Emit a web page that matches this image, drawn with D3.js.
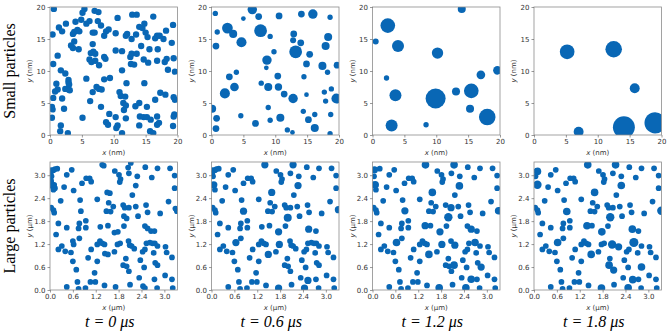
<!DOCTYPE html>
<html><head><meta charset="utf-8">
<script src="https://cdn.jsdelivr.net/npm/d3@7"></script>
<style>body{margin:0;background:#fff}svg{display:block}</style>
</head><body>
<svg id="c" width="669" height="333"></svg>
<script>
// ---------- DATA ----------
const timeLabels = ["t = 0 μs", "t = 0.6 μs", "t = 1.2 μs", "t = 1.8 μs"];
const rowLabels = ["Small particles", "Large particles"];
const smallTicks = [0, 5, 10, 15, 20];
const largeTicks = [0.0, 0.6, 1.2, 1.8, 2.4, 3.0];

// small particles, [x nm, y nm, r nm]
const smallT0 = [
[0.6,19.7,.5],[5.1,19.1,.5],[5.4,19.7,.5],[7.0,19.4,.5],[7.6,19.2,.5],[10.6,18.3,.5],[12.9,18.8,.5],[13.6,18.8,.5],
[16.2,18.5,.5],[19.3,17.2,.5],[1.4,16.8,.5],[1.9,16.2,.5],[2.5,17.4,.5],[0.4,15.7,.5],[4.0,17.7,.5],[4.9,18.0,.5],
[5.7,17.4,.5],[6.2,17.8,.5],[3.8,16.1,.5],[4.3,16.4,.5],[4.6,16.2,.5],[3.6,15.8,.5],[6.7,16.0,.5],[7.0,16.0,.5],
[7.5,17.8,.5],[8.0,17.1,.5],[8.8,16.2,.5],[8.5,15.5,.5],[9.2,16.5,.5],[10.3,15.9,.5],[12.1,15.8,.5],[11.9,15.5,.5],
[12.8,15.0,.5],[13.5,15.7,.5],[14.0,16.9,.5],[14.5,16.7,.5],[14.8,17.4,.5],[15.0,16.0,.5],[15.3,15.3,.5],[16.5,15.1,.5],
[16.8,15.5,.5],[17.2,15.5,.5],[18.2,16.3,.5],[17.8,15.0,.5],[19.1,14.4,.5],[16.9,13.4,.5],[15.6,13.4,.5],[14.3,13.9,.5],
[3.3,14.0,.5],[3.8,14.6,.5],[3.6,13.6,.5],[4.5,13.4,.5],[6.7,14.2,.5],[6.4,12.8,.5],[6.8,13.0,.5],[7.1,12.7,.5],
[6.2,11.8,.5],[6.5,11.4,.5],[7.1,11.6,.5],[7.7,10.9,.5],[8.7,11.9,.5],[8.5,12.2,.5],[10.3,13.2,.5],[11.3,13.1,.5],
[12.6,12.2,.5],[12.8,12.7,.5],[13.6,12.7,.5],[12.7,11.1,.5],[13.2,11.0,.5],[14.7,11.8,.5],[15.4,11.3,.5],[16.8,11.6,.5],
[18.0,11.4,.5],[18.3,11.9,.5],[19.4,12.0,.5],[19.6,9.9,.5],[18.5,10.2,.5],[0.5,11.1,.5],[1.2,12.4,.5],[1.7,10.1,.5],
[2.4,9.6,.5],[2.9,8.6,.5],[2.9,8.2,.5],[3.0,7.9,.5],[5.7,8.8,.5],[8.5,8.7,.5],[9.4,8.9,.5],[11.3,10.1,.5],
[12.0,8.1,.5],[14.8,8.1,.5],[1.0,8.0,.5],[1.2,7.1,.5],[0.8,6.8,.5],[0.5,5.8,.5],[1.9,5.7,.5],[2.4,7.2,.5],
[2.9,7.1,.5],[3.1,7.0,.5],[2.2,4.1,.5],[0.3,4.4,.5],[0.4,4.0,.5],[0.3,2.7,.5],[1.7,1.5,.5],[1.6,0.6,.5],
[2.8,0.3,.5],[5.1,2.7,.5],[6.3,5.3,.5],[6.7,6.7,.5],[7.3,7.5,.5],[7.7,7.2,.5],[8.1,7.1,.5],[8.0,4.4,.5],
[8.8,2.0,.5],[9.1,1.6,.5],[9.3,3.3,.5],[10.3,2.8,.5],[10.4,1.1,.5],[10.6,1.5,.5],[10.9,6.7,.5],[11.1,6.1,.5],
[11.8,6.0,.5],[11.5,5.0,.5],[11.9,4.6,.5],[11.6,3.9,.5],[11.9,2.6,.5],[11.3,0.3,.5],[13.4,4.5,.5],[14.0,5.0,.5],
[14.1,2.9,.5],[14.0,1.5,.5],[15.2,4.4,.5],[14.7,2.8,.5],[15.2,2.8,.5],[15.8,2.4,.5],[15.7,0.6,.5],[16.2,0.3,.5],
[16.5,5.5,.5],[16.8,2.9,.5],[16.8,1.6,.5],[17.1,1.9,.5],[17.3,6.6,.5],[18.1,6.3,.5],[19.4,5.9,.5],[19.6,5.5,.5],
[19.5,3.2,.5],[19.4,2.9,.5],[19.3,1.4,.5]
];
const smallT06 = [
[0.6,19.0,.42],[5.0,18.2,.37],[6.4,19.6,.74],[7.4,18.5,.53],[10.6,18.6,.53],[14.1,18.9,.53],[15.9,18.9,.74],[18.6,18.4,.42],
[0.9,16.1,.42],[2.5,16.7,.84],[3.4,15.8,.63],[7.7,16.3,1.0],[4.7,14.5,.79],[0.7,13.9,.53],[9.2,15.4,.42],[12.9,15.8,.53],
[12.8,14.8,.47],[14.0,14.4,.53],[13.2,13.0,1.0],[9.8,13.0,.42],[15.4,12.6,.53],[18.3,15.3,.63],[17.9,13.9,.63],[8.7,11.7,.74],
[8.6,10.5,.37],[14.9,11.1,.53],[17.4,10.8,.63],[18.2,9.8,.42],[19.7,10.9,.53],[3.9,9.8,.42],[2.8,9.1,.53],[3.6,7.5,.68],
[2.1,6.5,.79],[7.8,8.1,.42],[8.9,7.5,.63],[10.4,9.2,.53],[10.5,7.5,.58],[11.4,6.4,.53],[12.8,5.7,.74],[14.5,9.1,.42],
[14.9,6.3,.37],[17.7,6.7,.42],[17.9,5.3,.42],[18.8,7.2,.42],[19.6,5.7,.79],[0.1,4.1,.63],[8.9,4.3,.42],[4.6,3.0,.42],
[0.8,2.6,.53],[0.7,1.0,.53],[6.9,1.8,.53],[9.2,2.3,.42],[10.8,2.7,.63],[11.9,0.8,.42],[12.7,0.4,.37],[14.4,3.7,.42],
[15.2,2.4,.53],[16.2,3.2,.42],[16.2,1.1,.63],[18.7,3.2,.42],[18.6,0.2,.42]
];
const smallT12 = [
[2.4,17.1,1.15],[0.5,14.6,.47],[4.0,13.9,.94],[10.2,12.8,.89],[14.0,19.7,.63],[2.2,8.9,.42],[3.6,6.2,.94],[3.0,1.5,.94],
[8.4,1.6,.42],[9.9,5.7,1.57],[13.1,6.8,.63],[15.5,6.9,1.15],[15.3,4.1,.63],[17.0,9.4,.68],[19.6,10.1,.68],[18.0,2.8,1.3]
];
const smallT18 = [
[5.2,13.0,1.15],[12.5,13.4,1.3],[15.8,7.3,.78],[7.0,0.5,.78],[14.1,1.2,1.72],[19.0,1.9,1.67]
];

// large particles at t = 0, [x μm, y μm, r μm]
const largeT0 = [
[0.03,3.13,.075],[0.09,3.13,.075],[0.13,3.16,.075],[0.19,3.17,.075],[0.02,3.05,.075],[0.04,2.97,.075],[0.04,2.79,.075],[0.11,2.75,.075],
[0.07,2.70,.075],[0.13,2.66,.075],[0.03,2.85,.075],[0.09,2.62,.075],[0.44,3.01,.075],[0.57,3.14,.075],[0.37,2.69,.075],[0.62,2.60,.075],
[0.84,2.79,.075],[0.95,2.92,.075],[1.04,2.92,.075],[1.08,2.83,.075],[1.37,3.27,.075],[1.41,3.25,.075],[1.70,3.11,.075],[1.81,3.01,.075],
[1.85,2.90,.075],[1.83,2.82,.075],[2.07,3.05,.075],[2.05,3.20,.075],[2.12,3.32,.075],[2.29,2.97,.075],[2.25,2.73,.075],[2.16,2.48,.075],
[2.50,3.21,.075],[2.82,3.18,.075],[2.67,2.94,.075],[3.15,3.18,.075],[3.27,2.99,.075],[3.27,2.66,.075],[3.11,2.31,.075],[3.29,2.13,.075],
[3.33,2.06,.075],[0.28,2.33,.075],[0.03,2.15,.075],[0.09,2.09,.075],[0.11,2.02,.075],[0.79,2.35,.075],[1.24,2.37,.075],[1.50,2.55,.075],
[1.57,2.53,.075],[1.54,2.28,.075],[1.66,2.18,.075],[1.48,2.06,.075],[1.59,2.05,.075],[0.81,2.06,.075],[1.92,2.22,.075],[1.96,2.15,.075],
[2.07,2.15,.075],[2.25,2.18,.075],[1.94,1.93,.075],[2.01,1.87,.075],[2.31,1.93,.075],[2.52,2.22,.075],[2.56,2.03,.075],[2.89,2.00,.075],
[0.22,1.74,.075],[0.44,1.63,.075],[0.77,1.74,.075],[0.75,1.61,.075],[0.94,1.81,.075],[0.94,1.63,.075],[1.32,1.65,.075],[1.52,1.68,.075],
[1.69,1.50,.075],[1.78,1.52,.075],[1.94,1.67,.075],[2.49,1.67,.075],[2.56,1.61,.075],[2.65,1.54,.075],[2.74,1.54,.075],[0.16,1.45,.075],
[0.60,1.28,.075],[0.62,1.19,.075],[0.77,1.35,.075],[0.31,1.15,.075],[0.22,1.06,.075],[0.40,1.01,.075],[0.55,0.98,.075],[1.24,1.19,.075],
[1.31,1.28,.075],[1.37,1.22,.075],[1.43,1.19,.075],[1.08,1.06,.075],[1.24,0.75,.075],[1.00,0.84,.075],[0.60,0.75,.075],[1.44,0.95,.075],
[1.52,0.93,.075],[1.69,1.00,.075],[1.77,1.19,.075],[1.84,1.22,.075],[2.06,1.28,.075],[2.09,1.17,.075],[2.14,1.15,.075],[2.21,1.08,.075],
[1.99,0.82,.075],[1.92,0.65,.075],[2.01,0.62,.075],[2.07,0.49,.075],[2.43,1.00,.075],[2.49,1.06,.075],[2.53,1.22,.075],[2.62,1.24,.075],
[2.69,1.22,.075],[2.75,1.22,.075],[2.82,1.15,.075],[3.03,1.13,.075],[3.06,0.98,.075],[3.20,0.85,.075],[2.72,0.97,.075],[2.37,0.78,.075],
[2.47,0.59,.075],[2.76,0.71,.075],[2.82,0.65,.075],[0.69,0.53,.075],[1.17,0.45,.075],[3.02,0.38,.075],[3.20,0.28,.075],[2.34,0.32,.075],
[2.74,0.28,.075],[0.72,0.21,.075],[1.06,0.21,.075],[1.19,0.21,.075],[1.43,0.12,.075],[1.72,0.08,.075],[2.10,0.14,.075],[2.44,0.10,.075],
[2.49,0.05,.075],[2.81,0.05,.075],[3.22,0.05,.075],[0.44,0.08,.075],[0.93,0.05,.075],[0.75,0.03,.075]
];
// grown (coalesced) large particles at later times, [x μm, y μm, r μm]
const largeGrown06 = [
[1.40,3.27,.095],[0.84,2.06,.095],[0.64,1.24,.095],[1.58,2.55,.095],[2.27,2.73,.095],[2.00,1.89,.105],[1.76,1.52,.095],[1.49,0.93,.095],
[1.78,1.19,.095],[2.55,1.59,.095],[3.33,2.10,.095],[2.53,0.25,.095],[1.76,0.05,.095],[2.44,0.05,.095],[0.06,2.75,.095],[2.14,3.27,.095]
];
const largeGrown12 = [
[1.39,3.27,.10],[2.14,3.27,.10],[0.05,3.14,.095],[0.07,2.75,.10],[1.57,2.55,.10],[0.85,2.07,.095],[1.99,1.90,.11],[2.06,2.15,.095],
[2.28,2.72,.10],[3.31,2.07,.10],[2.59,1.59,.095],[1.77,1.52,.095],[0.63,1.24,.10],[1.38,1.68,.095],[1.82,1.19,.095],[2.16,1.17,.095],
[2.69,1.24,.10],[1.48,0.93,.10],[2.14,0.65,.10],[2.59,0.28,.10],[2.85,0.60,.095],[1.75,0.06,.10],[2.45,0.06,.10]
];
const largeGrown18 = [
[1.41,3.27,.10],[2.14,3.27,.10],[0.09,3.10,.10],[0.09,2.75,.11],[1.59,2.55,.10],[2.29,2.73,.10],[0.86,2.05,.10],[2.00,1.90,.11],
[3.34,2.07,.11],[1.78,1.52,.10],[1.39,1.68,.10],[0.62,1.24,.10],[2.05,1.19,.11],[2.22,1.13,.095],[2.62,1.24,.12],[2.58,1.59,.10],
[1.50,0.93,.10],[1.97,0.65,.10],[2.09,0.52,.095],[2.82,0.60,.10],[2.59,0.27,.10],[1.77,0.05,.10],[2.47,0.06,.10]
];

// ---------- LAYOUT ----------
const color = "#0967b5";
const panelLefts = [50, 211.5, 372.5, 534];
const panelW = 127.5;
const rows = [
  {top: 7, bottom: 135, dom: [0, 20], ticks: smallTicks, fmt: d3.format("d"), unit: "nm",
   data: [smallT0, smallT06, smallT12, smallT18]},
  {top: 162, bottom: 290, dom: [0, 3.345], ticks: largeTicks, fmt: d3.format(".1f"), unit: "μm",
   data: [largeT0, largeT0, largeT0, largeT0], grown: [[], largeGrown06, largeGrown12, largeGrown18]}
];

const svg = d3.select("#c");
const defs = svg.append("defs");

rows.forEach((row, ri) => {
  row.data.forEach((data, ci) => {
    const left = panelLefts[ci];
    const x = d3.scaleLinear().domain(row.dom).range([left, left + panelW]);
    const y = d3.scaleLinear().domain(row.dom).range([row.bottom, row.top]);
    const id = `clip${ri}${ci}`;
    defs.append("clipPath").attr("id", id).append("rect")
      .attr("x", left).attr("y", row.top).attr("width", panelW).attr("height", row.bottom - row.top);
    const g = svg.append("g");
    let pts = data;
    const grown = row.grown ? row.grown[ci] : [];
    if (grown.length) {
      pts = data.filter(p => !grown.some(q => Math.hypot(p[0] - q[0], p[1] - q[1]) < q[2] + 0.03)).concat(grown);
    }
    g.append("g").attr("clip-path", `url(#${id})`).selectAll("circle").data(pts).join("circle")
      .attr("cx", d => x(d[0])).attr("cy", d => y(d[1]))
      .attr("r", d => x(d[2]) - x(0))
      .attr("fill", color);
    // frame
    g.append("rect").attr("x", left).attr("y", row.top).attr("width", panelW).attr("height", row.bottom - row.top)
      .attr("fill", "none").attr("stroke", "#8c8c8c").attr("stroke-width", 0.8);
    const xa = g.append("g").attr("transform", `translate(0,${row.bottom})`)
      .call(d3.axisBottom(x).tickValues(row.ticks).tickFormat(row.fmt).tickSize(2.5).tickPadding(2));
    const ya = g.append("g").attr("transform", `translate(${left},0)`)
      .call(d3.axisLeft(y).tickValues(row.ticks).tickFormat(row.fmt).tickSize(2.5).tickPadding(2));
    [xa, ya].forEach(a => {
      a.select(".domain").remove();
      a.selectAll(".tick line").attr("stroke", "#555").attr("stroke-width", 0.6);
      a.selectAll(".tick text").attr("fill", "#333").style("font-family", "DejaVu Sans").style("font-size", "7px");
    });
    const xl = g.append("text").attr("x", left + panelW / 2).attr("y", row.bottom + 20)
      .attr("text-anchor", "middle").style("font-family", "DejaVu Sans").style("font-size", "7px").attr("fill", "#333");
    xl.append("tspan").style("font-style", "italic").text("x");
    xl.append("tspan").text(` (${row.unit})`);
    const yl = g.append("text").attr("transform", `translate(${left - 18},${(row.top + row.bottom) / 2}) rotate(-90)`)
      .attr("text-anchor", "middle").style("font-family", "DejaVu Sans").style("font-size", "7px").attr("fill", "#333");
    yl.append("tspan").style("font-style", "italic").text("y");
    yl.append("tspan").text(` (${row.unit})`);
  });
  svg.append("text").attr("transform", `translate(15,${(row.top + row.bottom) / 2}) rotate(-90)`)
    .attr("text-anchor", "middle").style("font-family", "Liberation Serif").style("font-size", "16px")
    .attr("fill", "#000").text(rowLabels[ri]);
});

timeLabels.forEach((t, ci) => {
  svg.append("text").attr("x", panelLefts[ci] + panelW / 2 - 4).attr("y", 327)
    .attr("text-anchor", "middle").style("font-family", "Liberation Serif").style("font-style", "italic")
    .style("font-size", "16px").attr("fill", "#000").text(t);
});
</script>
</body></html>
